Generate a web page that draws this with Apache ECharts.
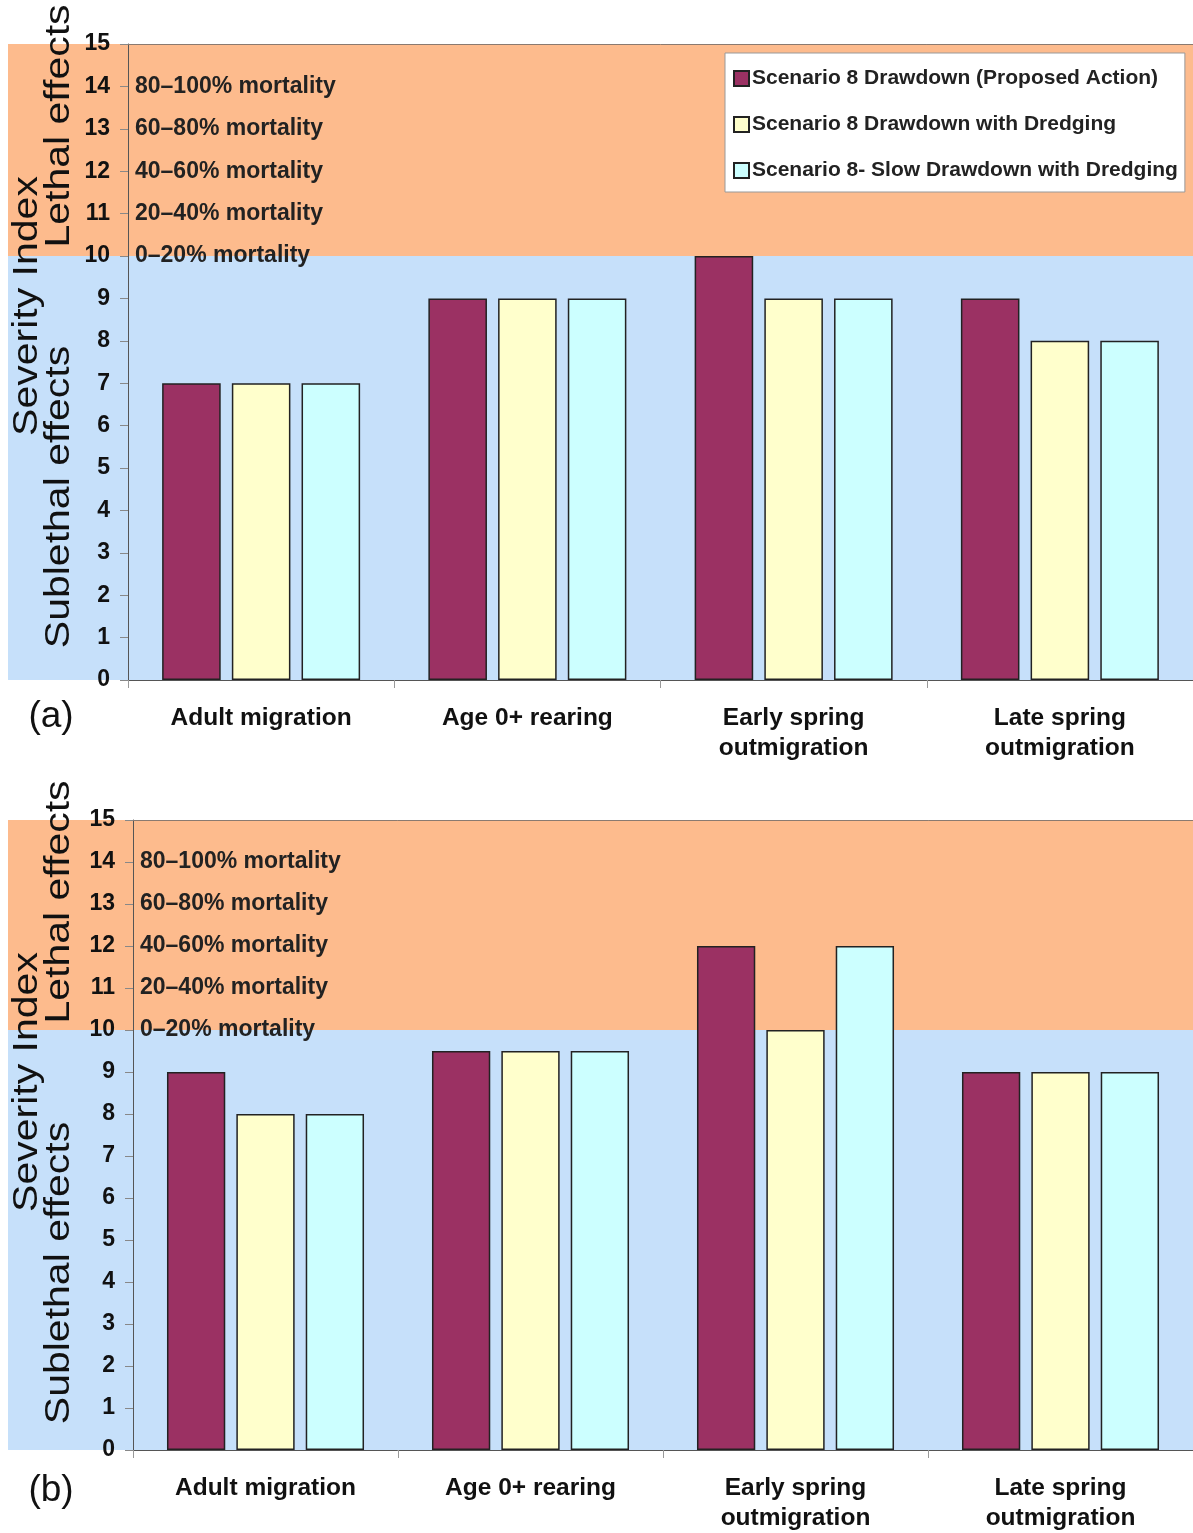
<!DOCTYPE html>
<html>
<head>
<meta charset="utf-8">
<script src="https://cdn.jsdelivr.net/npm/echarts@6/dist/echarts.min.js"></script>
<style>html,body{margin:0;padding:0;background:#fff;}#c{width:1193px;height:1533px;}</style>
</head>
<body>
<div id="c"></div>
<script>
const categories = ['Adult migration', 'Age 0+ rearing', 'Early spring\noutmigration', 'Late spring\noutmigration'];
const seriesNames = ['Scenario 8 Drawdown (Proposed Action)', 'Scenario 8 Drawdown with Dredging', 'Scenario 8- Slow Drawdown with Dredging'];
const seriesColors = ['#9B3163', '#FFFFCC', '#CCFFFF'];
const panelAValues = [
  [7, 9, 10, 9],
  [7, 9, 9, 8],
  [7, 9, 9, 8]
];
const panelBValues = [
  [9, 9.5, 12, 9],
  [8, 9.5, 10, 9],
  [8, 9.5, 12, 9]
];
const yMin = 0, yMax = 15, yInterval = 1;
const zoneLimit = 10;
const mortalityLevels = [14, 13, 12, 11, 10];
const mortalityLabels = ['80–100% mortality', '60–80% mortality', '40–60% mortality', '20–40% mortality', '0–20% mortality'];
const panelLabels = ['(a)', '(b)'];

const FONT = "'Liberation Sans', Arial, Helvetica, sans-serif";
const chart = echarts.init(document.getElementById('c'), null, {renderer: 'canvas'});

const grids = [
  {left: 128, top: 44, width: 1065, height: 636},
  {left: 133, top: 820, width: 1060, height: 634}
];

function xAxisFor(i) {
  return {
    type: 'category', gridIndex: i, data: categories,
    axisLine: {show: true, lineStyle: {color: '#555', width: 1}},
    axisTick: {show: true, length: 8, lineStyle: {color: '#999'}},
    axisLabel: {fontFamily: FONT, fontWeight: 'bold', fontSize: 24.5, color: '#111', margin: 23, lineHeight: 30, interval: 0},
    splitLine: {show: false}
  };
}
function topAxisFor(i) {
  return {
    type: 'category', gridIndex: i, position: 'top', data: categories,
    axisLine: {show: true, lineStyle: {color: '#8a7a70', width: 1}},
    axisTick: {show: false}, axisLabel: {show: false}, splitLine: {show: false}
  };
}
function yAxisFor(i) {
  return {
    type: 'value', gridIndex: i, min: yMin, max: yMax, interval: yInterval,
    axisLine: {show: true, lineStyle: {color: '#555', width: 1}},
    axisTick: {show: true, length: 8, lineStyle: {color: '#888'}},
    axisLabel: {fontFamily: FONT, fontWeight: 'bold', fontSize: 23, color: '#111', margin: 18},
    splitLine: {show: false}
  };
}

const series = [];
[panelAValues, panelBValues].forEach(function (vals, gi) {
  vals.forEach(function (v, si) {
    series.push({
      name: seriesNames[si], type: 'bar', xAxisIndex: gi * 2, yAxisIndex: gi,
      data: v, barWidth: '22%', barGap: '19%',
      itemStyle: {color: seriesColors[si], borderColor: '#222', borderWidth: 1.5},
      emphasis: {disabled: true}, animation: false, z: 3
    });
  });
});

const option = {
  animation: false,
  grid: grids,
  xAxis: [xAxisFor(0), topAxisFor(0), xAxisFor(1), topAxisFor(1)],
  yAxis: [yAxisFor(0), yAxisFor(1)],
  legend: {
    data: seriesNames, orient: 'vertical', left: 725, top: 53,
    itemWidth: 15, itemHeight: 15, itemGap: 25,
    padding: [15, 7, 11, 8],
    backgroundColor: '#fff', borderColor: '#999', borderWidth: 1,
    icon: 'rect', selectedMode: false,
    textStyle: {fontFamily: FONT, fontWeight: 'bold', fontSize: 21, color: '#222', padding: [0, 0, 0, -2]}
  },
  series: series
};
chart.setOption(option);

// Background zones and text via the library's scales
const graphics = [];
const titlePos = [
  {sev: [27, 306], leth: [59, 126], sub: [59, 497], lab: [51, 717]},
  {sev: [27, 1082], leth: [59, 902], sub: [59, 1273], lab: [51, 1491]}
];
[0, 1].forEach(function (gi) {
  const g = grids[gi];
  const yTop = chart.convertToPixel({yAxisIndex: gi}, yMax);
  const yMid = chart.convertToPixel({yAxisIndex: gi}, zoneLimit);
  const yBot = chart.convertToPixel({yAxisIndex: gi}, yMin);
  const xRight = g.left + g.width;
  graphics.push({type: 'rect', z: -10, silent: true, shape: {x: 8, y: yTop, width: xRight - 8, height: yMid - yTop}, style: {fill: '#FDBB8D'}});
  graphics.push({type: 'rect', z: -10, silent: true, shape: {x: 8, y: yMid, width: xRight - 8, height: yBot - yMid}, style: {fill: '#C6E0FA'}});
  mortalityLevels.forEach(function (lv, k) {
    graphics.push({
      type: 'text', z: 5, silent: true,
      x: g.left + 7, y: chart.convertToPixel({yAxisIndex: gi}, lv),
      style: {text: mortalityLabels[k], fontFamily: FONT, fontWeight: 'bold', fontSize: 23, fill: '#222', textAlign: 'left', textVerticalAlign: 'middle'}
    });
  });
  const p = titlePos[gi];
  [['Severity Index', p.sev], ['Lethal effects', p.leth], ['Sublethal effects', p.sub]].forEach(function (t) {
    graphics.push({
      type: 'text', z: 5, silent: true, x: t[1][0], y: t[1][1], rotation: Math.PI / 2, scaleY: 0.85,
      style: {text: t[0], fontFamily: FONT, fontSize: 41, fill: '#111', textAlign: 'center', textVerticalAlign: 'middle'}
    });
  });
  graphics.push({
    type: 'text', z: 5, silent: true, x: p.lab[0], y: p.lab[1],
    style: {text: panelLabels[gi], fontFamily: FONT, fontSize: 37, fill: '#111', textAlign: 'center', textVerticalAlign: 'middle'}
  });
});
chart.setOption({graphic: graphics});
</script>
</body>
</html>
